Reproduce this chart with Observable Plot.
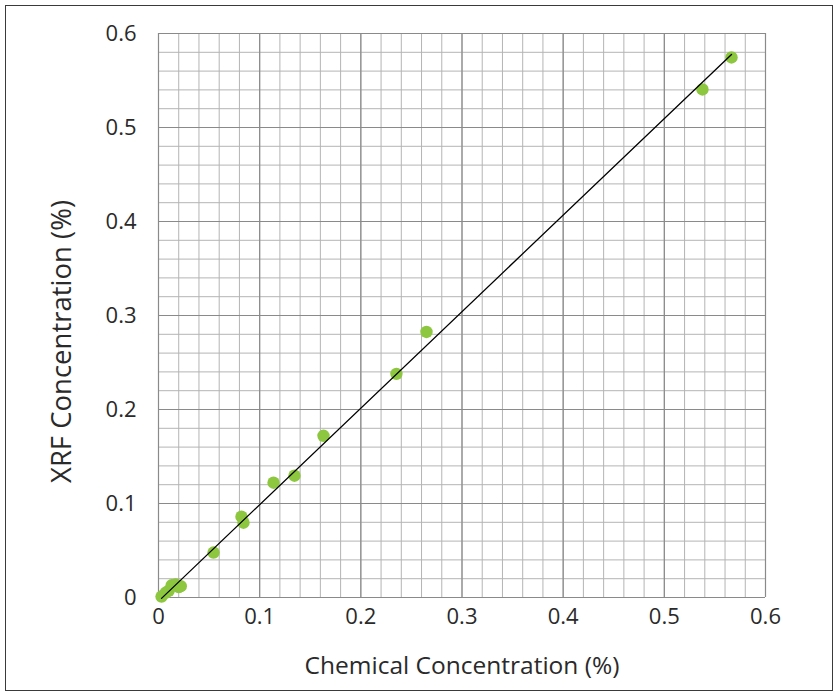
<!DOCTYPE html>
<html>
<head>
<meta charset="utf-8">
<script src="https://cdn.jsdelivr.net/npm/d3@7"></script>
<script src="https://cdn.jsdelivr.net/npm/@observablehq/plot@0.6"></script>
<style>
  html, body { margin: 0; padding: 0; background: #fff; }
  #wrap { position: relative; width: 839px; height: 696px; }
  #border { position: absolute; left: 5px; top: 5px; width: 826px; height: 684px; border: 1.5px solid #3a3a3a; pointer-events: none; }
</style>
</head>
<body>
<div id="wrap"><div id="border"></div></div>
<script>
// Chemical (x) vs XRF (y) concentration, %
const chemical = [0.003, 0.007, 0.010, 0.013, 0.017, 0.020, 0.022, 0.0544, 0.082, 0.084, 0.1137, 0.1344, 0.1631, 0.2352, 0.2649, 0.5377, 0.5664];
const xrf      = [0.001, 0.005, 0.007, 0.013, 0.014, 0.011, 0.012, 0.0478, 0.086, 0.0796, 0.1221, 0.1296, 0.1720, 0.2379, 0.2825, 0.5405, 0.5745];
// linear trend line
const trendSlope = [1.027];
const trendIntercept = [-0.004];
const tickValues = [0, 0.1, 0.2, 0.3, 0.4, 0.5, 0.6];
const tickLabels = ["0", "0.1", "0.2", "0.3", "0.4", "0.5", "0.6"];
const minorStep = 0.02;

const points = chemical.map((c, i) => ({x: c, y: xrf[i]}));
const xMin = d3.min(chemical), xMax = d3.max(chemical);
const trend = [xMin, xMax].map(x => ({x, y: trendSlope[0] * x + trendIntercept[0]}));
const minor = d3.range(0, 0.6 + 1e-9, minorStep).map(v => +v.toFixed(2));
const fmt = d => tickLabels[tickValues.findIndex(t => Math.abs(t - d) < 1e-9)];

const chart = Plot.plot({
  width: 839,
  height: 696,
  marginLeft: 158,
  marginRight: 74,
  marginTop: 33,
  marginBottom: 99,
  style: {fontFamily: "'Open Sans', sans-serif", background: "transparent"},
  x: {domain: [0, 0.6]},
  y: {domain: [0, 0.6]},
  marks: [
    Plot.ruleX(minor, {stroke: "#b4b4b4", strokeWidth: 1}),
    Plot.ruleY(minor, {stroke: "#b4b4b4", strokeWidth: 1}),
    Plot.ruleX(tickValues, {stroke: "#8a8a8a", strokeWidth: 1.2}),
    Plot.ruleY(tickValues, {stroke: "#8a8a8a", strokeWidth: 1.2}),
    Plot.axisX({ticks: tickValues, tickFormat: fmt, tickSize: 0, tickPadding: 11, fontSize: 22, fill: "#2a2a2a", label: null}),
    Plot.axisY({ticks: tickValues, tickFormat: fmt, tickSize: 0, tickPadding: 22, fontSize: 22, fill: "#2a2a2a", label: null}),
    Plot.dot(points, {x: "x", y: "y", r: 6.2, fill: "#8dc63f", stroke: "none"}),
    Plot.line(trend, {x: "x", y: "y", stroke: "#000", strokeWidth: 1.3}),
    Plot.text(["Chemical Concentration (%)"], {frameAnchor: "bottom", lineAnchor: "middle", textAnchor: "middle", dy: 69, fontSize: 24.5, fill: "#2a2a2a"}),
    Plot.text(["XRF Concentration (%)"], {frameAnchor: "left", textAnchor: "middle", lineAnchor: "middle", rotate: -90, dx: -96, dy: 26, fontSize: 27.5, fill: "#2a2a2a"})
  ]
});
document.getElementById("wrap").prepend(chart);
</script>
</body>
</html>
